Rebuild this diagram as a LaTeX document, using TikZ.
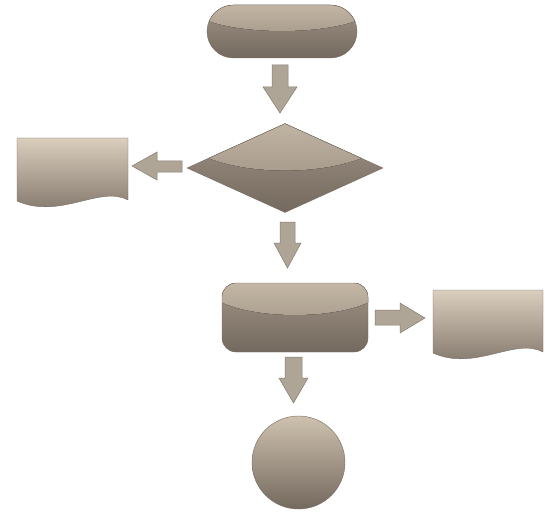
\documentclass[tikz,border=0pt]{standalone}
\usetikzlibrary{shapes.geometric,shapes.misc}
\definecolor{basetop}{RGB}{160,148,134}
\definecolor{basebot}{RGB}{116,105,94}
\definecolor{hltop}{RGB}{214,201,182}
\definecolor{hlbot}{RGB}{148,136,123}
\definecolor{doctop}{RGB}{218,206,189}
\definecolor{docmid}{RGB}{158,146,132}
\definecolor{docbot}{RGB}{122,111,100}
\definecolor{circtop}{RGB}{206,193,175}
\definecolor{circmid}{RGB}{150,138,125}
\definecolor{edgec}{RGB}{118,108,97}
\definecolor{arrf}{RGB}{175,165,151}
\definecolor{arrd}{RGB}{132,122,110}
\tikzset{
  solid3d/.style={top color=basetop, bottom color=basebot, draw=edgec, line width=0.4pt, inner sep=0pt},
  hl/.style={top color=hltop, bottom color=hlbot, draw=none},
  doc3d/.style={top color=doctop, middle color=docmid, bottom color=docbot, draw=edgec, line width=0.4pt},
  blockarr/.style={fill=arrf, draw=arrd, line width=0.5pt, line join=miter}
}
\begin{document}
\begin{tikzpicture}[x=1pt,y=-1pt]
\useasboundingbox (0,0) rectangle (556,513);
% shapes
\node[solid3d, rounded rectangle, minimum width=150pt, minimum height=53pt,
  path picture={\fill[hl] ([yshift=-1pt]path picture bounding box.north) ellipse [x radius=92, y radius=25];}]
  (start) at (282,31.5) {};
\node[solid3d, diamond, minimum width=196pt, minimum height=89pt,
  path picture={\fill[hl] ([yshift=-1pt]path picture bounding box.north) ellipse [x radius=112, y radius=46];}]
  (dec) at (285,168) {};
\node[solid3d, rectangle, rounded corners=14pt, minimum width=146pt, minimum height=69pt,
  path picture={\fill[hl] ([yshift=-2pt]path picture bounding box.north) ellipse [x radius=90, y radius=30];}]
  (proc) at (295,317.5) {};
\node[solid3d, circle, minimum size=93pt, top color=circtop, middle color=circmid, bottom color=basebot]
  (stop) at (298.5,462.5) {};
% documents
\path[doc3d] (17,138) coordinate (docL) -- (128,138) -- (128,200) .. controls (100,185) and (60,220) .. (17,201) -- cycle;
\path[doc3d] (433,290) coordinate (docR) -- (543,290) -- (543,352) .. controls (515,337) and (475,372) .. (433,353) -- cycle;
% block arrows between the shapes
\path[blockarr] (272,65) -- (288,65) -- (288,87) -- (297,87) -- (280,113) -- (263,87) -- (272,87) -- cycle;
\path[blockarr] (280,222) -- (295,222) -- (295,243) -- (301,243) -- (287.5,268) -- (274,243) -- (280,243) -- cycle;
\path[blockarr] (285,357) -- (302,357) -- (302,378) -- (308,378) -- (293.5,403) -- (279,378) -- (285,378) -- cycle;
\path[blockarr] (182,161) -- (182,172) -- (157,172) -- (157,180) -- (132,166) -- (157,152) -- (157,161) -- cycle;
\path[blockarr] (375,310) -- (400,310) -- (400,303) -- (425,318) -- (400,333) -- (400,325) -- (375,325) -- cycle;
\end{tikzpicture}
\end{document}
